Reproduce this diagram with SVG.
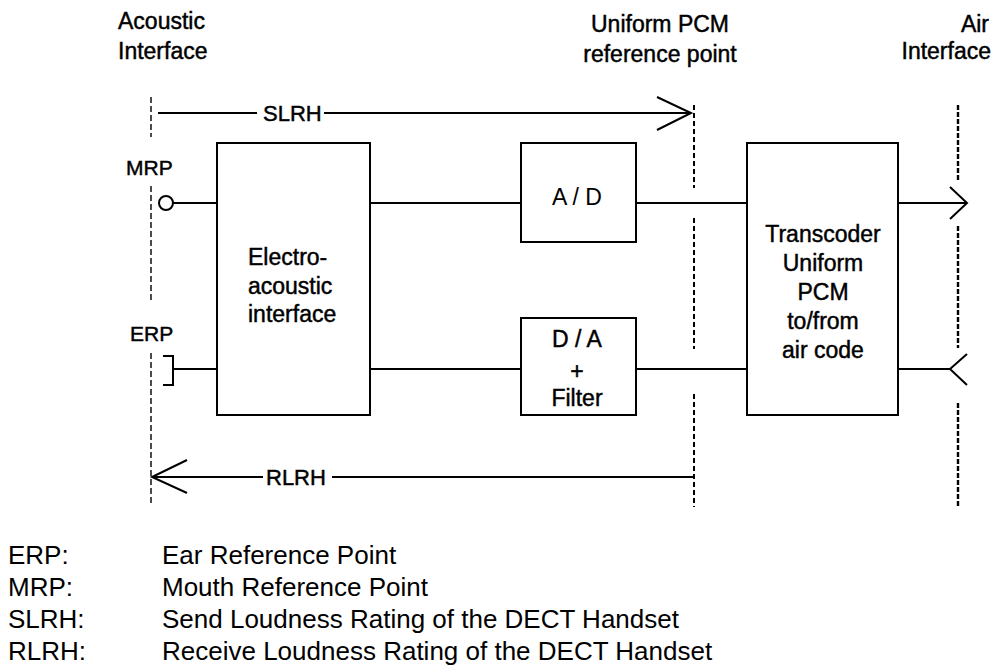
<svg xmlns="http://www.w3.org/2000/svg" width="994" height="669" viewBox="0 0 994 669">
<style>
  text { font-family: "Liberation Sans", Arial, sans-serif; fill: #000; }
  .lbl { font-size: 23px; stroke: #000; stroke-width: 0.45; }
  .thin { stroke: none; }
  .sm { font-size: 21px; stroke: #000; stroke-width: 0.45; }
  .md { font-size: 22px; stroke: #000; stroke-width: 0.45; }
  .leg { font-size: 26px; }
  .box { fill: #fff; stroke: #000; stroke-width: 2; }
  .ln { fill: none; stroke: #000; stroke-width: 2; }
  .d1 { fill: none; stroke: #000; stroke-width: 1.4; stroke-dasharray: 6 3; }
  .d2 { fill: none; stroke: #000; stroke-width: 2; stroke-dasharray: 5 3; }
  .d3 { fill: none; stroke: #000; stroke-width: 2.4; stroke-dasharray: 5 2; }
  .mid { text-anchor: middle; }
  .end { text-anchor: end; }
</style>

<g id="reference-lines">
  <path class="d1" d="M151 97V137M151 186V300M151 353V505"/>
  <path class="d2" d="M694 105V188M694 218V349M694 394V507"/>
  <path class="d3" d="M958 105V182M958 226V348M958 403V507"/>
</g>

<g id="top-labels">
  <text class="lbl" x="118" y="29">Acoustic</text>
  <text class="lbl" x="118" y="59">Interface</text>
  <text class="lbl mid" x="660" y="32">Uniform PCM</text>
  <text class="lbl mid" x="660" y="62">reference point</text>
  <text class="lbl end" x="989" y="32">Air</text>
  <text class="lbl end" x="991" y="59">Interface</text>
</g>

<g id="connectors">
  <path class="ln" d="M158 113H257M324 113H691"/>
  <path class="ln" d="M657 97L691 113L657 130"/>
  <path class="ln" d="M152 477H263M332 477H694"/>
  <path class="ln" d="M187 460L152 477L187 493"/>
  <path class="ln" d="M173 203H217"/>
  <path class="ln" d="M370 203H521"/>
  <path class="ln" d="M636 203H747"/>
  <path class="ln" d="M898 203H967"/>
  <path class="ln" d="M950 187L967 203L950 219"/>
  <path class="ln" d="M163 356H173V385H163M173 369H217"/>
  <path class="ln" d="M370 369H521"/>
  <path class="ln" d="M636 369H747"/>
  <path class="ln" d="M898 369H950"/>
  <path class="ln" d="M967 354L950 369L967 385"/>
</g>

<g id="mrp">
  <circle cx="166" cy="203" r="7" fill="#fff" stroke="#000" stroke-width="2"/>
  <text class="sm" x="126" y="175">MRP</text>
</g>
<g id="erp">
  <text class="sm" x="130" y="341">ERP</text>
</g>
<g id="slrh">
  <text class="md" x="263" y="121">SLRH</text>
</g>
<g id="rlrh">
  <text class="md" x="266" y="485">RLRH</text>
</g>

<g id="electro-acoustic">
  <rect class="box" x="217" y="143" width="153" height="272"/>
  <text class="lbl" x="248" y="265">Electro-</text>
  <text class="lbl" x="248" y="294">acoustic</text>
  <text class="lbl" x="248" y="322">interface</text>
</g>

<g id="ad">
  <rect class="box" x="521" y="143" width="115" height="99"/>
  <text class="lbl thin mid" x="577" y="205">A / D</text>
</g>

<g id="da">
  <rect class="box" x="521" y="318" width="115" height="97"/>
  <text class="lbl mid" x="577" y="347">D / A</text>
  <text class="lbl mid" x="577" y="379">+</text>
  <text class="lbl mid" x="577" y="406">Filter</text>
</g>

<g id="transcoder">
  <rect class="box" x="747" y="143" width="151" height="272"/>
  <text class="lbl mid" x="823" y="242">Transcoder</text>
  <text class="lbl mid" x="823" y="271">Uniform</text>
  <text class="lbl mid" x="823" y="300">PCM</text>
  <text class="lbl mid" x="823" y="329">to/from</text>
  <text class="lbl mid" x="823" y="358">air code</text>
</g>

<g id="legend">
  <text class="leg" x="8" y="564">ERP:</text>
  <text class="leg" x="162" y="564">Ear Reference Point</text>
  <text class="leg" x="8" y="596">MRP:</text>
  <text class="leg" x="162" y="596">Mouth Reference Point</text>
  <text class="leg" x="8" y="628">SLRH:</text>
  <text class="leg" x="162" y="628">Send Loudness Rating of the DECT Handset</text>
  <text class="leg" x="8" y="660">RLRH:</text>
  <text class="leg" x="162" y="660">Receive Loudness Rating of the DECT Handset</text>
</g>
</svg>
